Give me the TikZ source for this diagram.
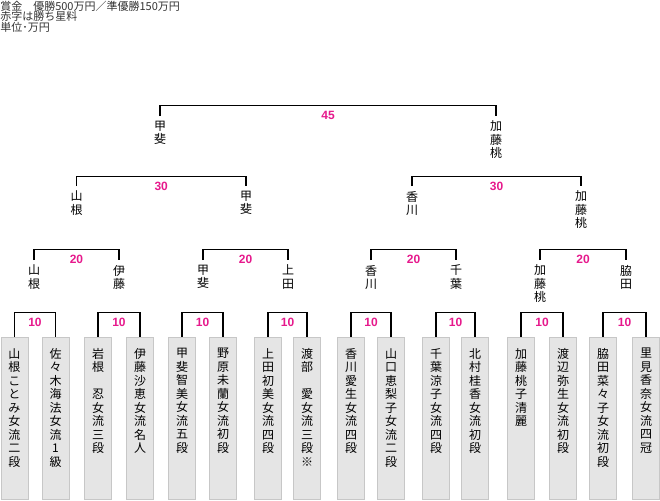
\documentclass[tikz,border=0pt]{standalone}
\usepackage{xcolor}
\usepackage{tikz}
\usepackage{fontspec}
\usetikzlibrary{positioning}
\newfontfamily\jp{Noto Sans CJK JP}
\newfontfamily\prizefont{Liberation Sans}
\definecolor{prizered}{RGB}{230,25,140}
\tikzset{
  pbox/.style={draw=black!22, fill=black!10, line width=0.75pt, anchor=north,
    minimum width=20.25pt, minimum height=121.9pt, inner sep=0pt},
  ptext/.style={font=\jp\fontsize{9pt}{10.125pt}\selectfont, align=center, inner sep=0pt},
  pname/.style={ptext, outer ysep=3.75pt, anchor=north},
  prize/.style={text=prizered, font=\prizefont\bfseries\fontsize{9pt}{9pt}\selectfont,
    inner sep=0pt, yshift=-7.5pt},
  bracket/.style={line width=0.8pt},
  header/.style={font=\jp\fontsize{8.25pt}{8.1pt}\selectfont, align=left,
    inner sep=0pt, text=black!80, anchor=north west}
}

\begin{document}
\begin{tikzpicture}[x=0.75pt,y=-0.75pt]
    \useasboundingbox (0,0) rectangle (660,500);
    \node[header] (info) at (0,0.5) {賞金　優勝500万円／準優勝150万円\\赤字は勝ち星料\\単位･万円};

    % players
    \node[pbox] (b1) at (14.5,336.5) {};
    \node[pbox] (b2) at (55.5,336.5) {};
    \node[pbox] (b3) at (98,336.5) {};
    \node[pbox] (b4) at (140,336.5) {};
    \node[pbox] (b5) at (182,336.5) {};
    \node[pbox] (b6) at (223,336.5) {};
    \node[pbox] (b7) at (268,336.5) {};
    \node[pbox] (b8) at (307,336.5) {};
    \node[pbox] (b9) at (351,336.5) {};
    \node[pbox] (b10) at (391,336.5) {};
    \node[pbox] (b11) at (436,336.5) {};
    \node[pbox] (b12) at (475,336.5) {};
    \node[pbox] (b13) at (521,336.5) {};
    \node[pbox] (b14) at (563,336.5) {};
    \node[pbox] (b15) at (603,336.5) {};
    \node[pbox] (b16) at (646,336.5) {};
    \node[ptext, below=8.6pt of b1.north] (t1) {山\\根\\こ\\と\\み\\女\\流\\二\\段};
    \node[ptext, below=8.6pt of b2.north] (t2) {佐\\々\\木\\海\\法\\女\\流\\1\\級};
    \node[ptext, below=8.6pt of b3.north] (t3) {岩\\根\\　\\忍\\女\\流\\三\\段};
    \node[ptext, below=8.6pt of b4.north] (t4) {伊\\藤\\沙\\恵\\女\\流\\名\\人};
    \node[ptext, below=8.6pt of b5.north] (t5) {甲\\斐\\智\\美\\女\\流\\五\\段};
    \node[ptext, below=8.6pt of b6.north] (t6) {野\\原\\未\\蘭\\女\\流\\初\\段};
    \node[ptext, below=8.6pt of b7.north] (t7) {上\\田\\初\\美\\女\\流\\四\\段};
    \node[ptext, below=8.6pt of b8.north] (t8) {渡\\部\\　\\愛\\女\\流\\三\\段\\※};
    \node[ptext, below=8.6pt of b9.north] (t9) {香\\川\\愛\\生\\女\\流\\四\\段};
    \node[ptext, below=8.6pt of b10.north] (t10) {山\\口\\恵\\梨\\子\\女\\流\\二\\段};
    \node[ptext, below=8.6pt of b11.north] (t11) {千\\葉\\涼\\子\\女\\流\\四\\段};
    \node[ptext, below=8.6pt of b12.north] (t12) {北\\村\\桂\\香\\女\\流\\初\\段};
    \node[ptext, below=8.6pt of b13.north] (t13) {加\\藤\\桃\\子\\清\\麗};
    \node[ptext, below=8.6pt of b14.north] (t14) {渡\\辺\\弥\\生\\女\\流\\初\\段};
    \node[ptext, below=8.6pt of b15.north] (t15) {脇\\田\\菜\\々\\子\\女\\流\\初\\段};
    \node[ptext, below=8.6pt of b16.north] (t16) {里\\見\\香\\奈\\女\\流\\四\\冠};

    % winners
    \node[pname] (k1) at (34,260) {山\\根};
    \node[pname] (k2) at (119,260) {伊\\藤};
    \node[pname] (k3) at (203,260) {甲\\斐};
    \node[pname] (k4) at (288,260) {上\\田};
    \node[pname] (k5) at (371,260) {香\\川};
    \node[pname] (k6) at (456,260) {千\\葉};
    \node[pname] (k7) at (540,260) {加\\藤\\桃};
    \node[pname] (k8) at (626,260) {脇\\田};
    \node[pname] (s1) at (76.5,186) {山\\根};
    \node[pname] (s2) at (246,186) {甲\\斐};
    \node[pname] (s3) at (412,186) {香\\川};
    \node[pname] (s4) at (581,186) {加\\藤\\桃};
    \node[pname] (f1) at (160,116) {甲\\斐};
    \node[pname] (f2) at (496,116) {加\\藤\\桃};

    % brackets
    \draw[bracket] (b1.north) -- ++(0,-24.2) -| node[prize, pos=0.25] {10} (b2.north);
    \draw[bracket] (b3.north) -- ++(0,-24.2) -| node[prize, pos=0.25] {10} (b4.north);
    \draw[bracket] (b5.north) -- ++(0,-24.2) -| node[prize, pos=0.25] {10} (b6.north);
    \draw[bracket] (b7.north) -- ++(0,-24.2) -| node[prize, pos=0.25] {10} (b8.north);
    \draw[bracket] (b9.north) -- ++(0,-24.2) -| node[prize, pos=0.25] {10} (b10.north);
    \draw[bracket] (b11.north) -- ++(0,-24.2) -| node[prize, pos=0.25] {10} (b12.north);
    \draw[bracket] (b13.north) -- ++(0,-24.2) -| node[prize, pos=0.25] {10} (b14.north);
    \draw[bracket] (b15.north) -- ++(0,-24.2) -| node[prize, pos=0.25] {10} (b16.north);
    \draw[bracket] (k1.north) -- ++(0,-10.7) -| node[prize, pos=0.25] {20} (k2.north);
    \draw[bracket] (k3.north) -- ++(0,-10.7) -| node[prize, pos=0.25] {20} (k4.north);
    \draw[bracket] (k5.north) -- ++(0,-10.7) -| node[prize, pos=0.25] {20} (k6.north);
    \draw[bracket] (k7.north) -- ++(0,-10.7) -| node[prize, pos=0.25] {20} (k8.north);
    \draw[bracket] (s1.north) -- ++(0,-9.5) -| node[prize, pos=0.25] {30} (s2.north);
    \draw[bracket] (s3.north) -- ++(0,-9.5) -| node[prize, pos=0.25] {30} (s4.north);
    \draw[bracket] (f1.north) -- ++(0,-10.7) -| node[prize, pos=0.25] {45} (f2.north);
  \end{tikzpicture}
\end{document}
